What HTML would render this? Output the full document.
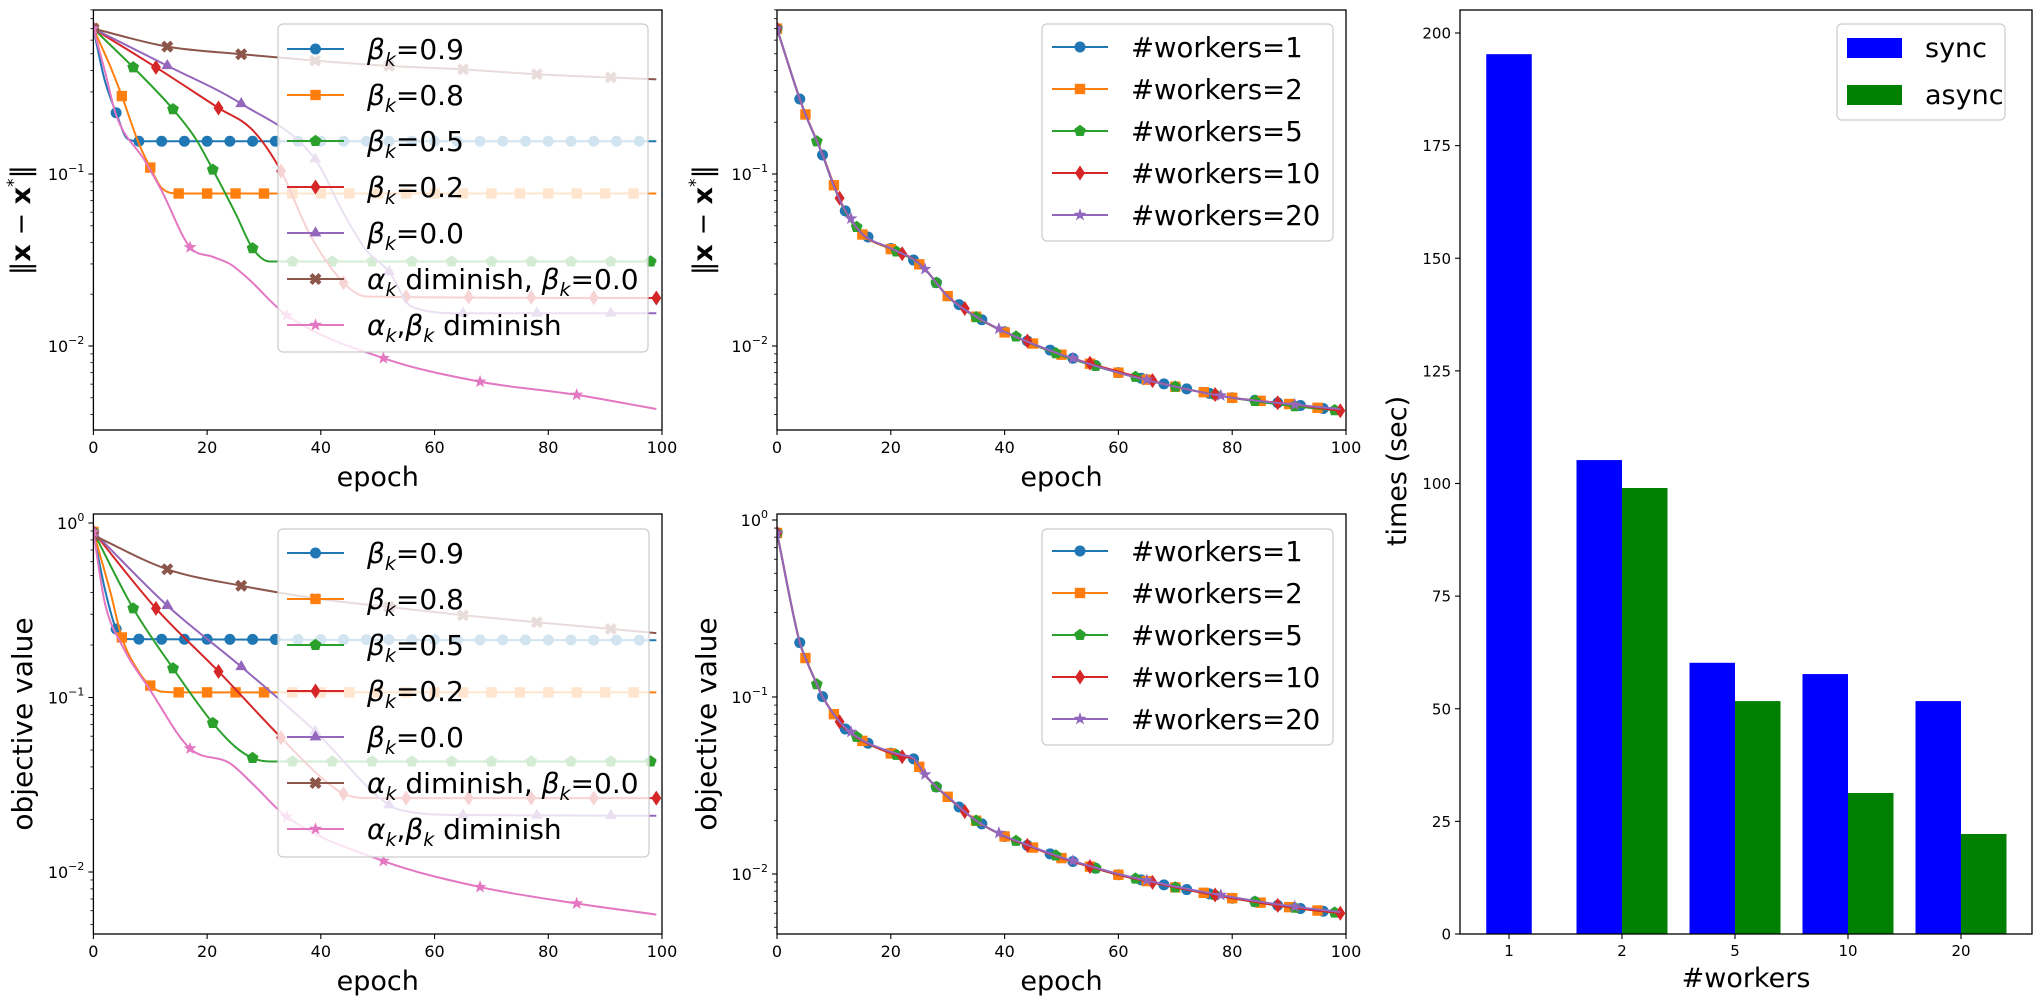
<!DOCTYPE html>
<html><head><meta charset="utf-8"><style>
html,body{margin:0;padding:0;background:#fff;}
svg{display:block;font-family:"DejaVu Sans","Liberation Sans",sans-serif;}
</style></head><body>
<svg id="fig" width="2040" height="1002" viewBox="0 0 2040 1002" xmlns="http://www.w3.org/2000/svg">
<rect width="2040" height="1002" fill="#fff"/>
</svg>
<script>
// ---------- data: left panels (beta experiments) ----------
const tlE_b09=[0,2,4,6,8,99];            const tlV_b09=[0.70,0.35,0.227,0.16,0.155,0.155];
const tlE_b08=[0,3,5,8,10,12,15,99];     const tlV_b08=[0.70,0.42,0.284,0.15,0.109,0.083,0.077,0.077];
const tlE_b05=[0,7,14,18,21,25,28,31,99];const tlV_b05=[0.70,0.417,0.238,0.16,0.106,0.059,0.037,0.031,0.031];
const tlE_b02=[0,11,22,28,33,38,44,48,99];const tlV_b02=[0.70,0.417,0.242,0.18,0.104,0.045,0.0233,0.0194,0.019];
const tlE_b00=[0,13,26,39,44,48,52,56,65,99];const tlV_b00=[0.70,0.426,0.256,0.122,0.059,0.036,0.027,0.0169,0.0155,0.0155];
const tlE_ad=[0,13,26,39,52,65,78,99];   const tlV_ad=[0.70,0.55,0.497,0.456,0.425,0.406,0.38,0.355];
const tlE_abd=[0,2,4,9,12,17,21,24,27,34,51,68,85,99];const tlV_abd=[0.70,0.40,0.22,0.12,0.08,0.0375,0.033,0.030,0.025,0.0151,0.0085,0.0062,0.0052,0.0043];

const blE_b09=[0,2,4,6,99];              const blV_b09=[0.89,0.42,0.247,0.216,0.213];
const blE_b08=[0,3,5,8,10,12,15,99];     const blV_b08=[0.89,0.40,0.221,0.14,0.117,0.108,0.107,0.107];
const blE_b05=[0,7,14,21,25,28,31,99];   const blV_b05=[0.89,0.324,0.147,0.0714,0.052,0.045,0.043,0.043];
const blE_b02=[0,11,22,33,40,44,48,99];  const blV_b02=[0.89,0.324,0.141,0.0589,0.035,0.0281,0.0265,0.0265];
const blE_b00=[0,13,26,39,52,56,65,99];  const blV_b00=[0.89,0.336,0.150,0.064,0.0242,0.022,0.0212,0.021];
const blE_ad=[0,13,26,39,52,65,78,99];   const blV_ad=[0.85,0.543,0.437,0.37,0.33,0.296,0.27,0.234];
const blE_abd=[0,2,5,10,17,24,28,34,51,68,85,99];const blV_abd=[0.89,0.35,0.2,0.11,0.051,0.042,0.032,0.0207,0.01156,0.0082,0.0066,0.0057];

// ---------- data: middle panels (workers) ----------
const tmE=[0,4,5,8,10,12,15,20,24,26,30,35,40,50,60,70,80,90,99];
const tmV_w1 =[0.70,0.273,0.222,0.129,0.085,0.061,0.0447,0.0369,0.0316,0.028,0.0194,0.0148,0.0121,0.0089,0.0070,0.0058,0.0050,0.0046,0.0042];
const tmV_w2 =[0.70,0.272,0.222,0.130,0.086,0.061,0.0445,0.0366,0.0318,0.028,0.0195,0.0148,0.0120,0.0089,0.0070,0.0058,0.0050,0.0046,0.0042];
const tmV_w5 =[0.70,0.274,0.223,0.129,0.085,0.060,0.0446,0.0368,0.0316,0.028,0.0194,0.0147,0.0121,0.0088,0.0070,0.0058,0.0050,0.0045,0.0042];
const tmV_w10=[0.70,0.273,0.223,0.130,0.086,0.061,0.0447,0.0369,0.0320,0.028,0.0195,0.0148,0.0121,0.0089,0.0071,0.0058,0.0050,0.0046,0.0042];
const tmV_w20=[0.70,0.273,0.222,0.129,0.085,0.061,0.0448,0.0370,0.0318,0.028,0.0194,0.0148,0.0121,0.0089,0.0070,0.0058,0.0050,0.0046,0.0043];
const bmE=[0,4,5,7,8,10,12,15,20,22,24,26,28,30,32,35,40,45,50,55,60,70,80,90,99];
const bmV_w1 =[0.845,0.203,0.166,0.118,0.1005,0.0797,0.066,0.0566,0.0482,0.046,0.0447,0.0363,0.031,0.0273,0.0239,0.020,0.0163,0.0141,0.0123,0.0110,0.0099,0.0084,0.0073,0.0065,0.0060];
const bmV_w2 =[0.845,0.203,0.166,0.119,0.1005,0.0800,0.066,0.0565,0.0480,0.046,0.0448,0.0363,0.031,0.0273,0.0239,0.020,0.0163,0.0141,0.0123,0.0110,0.0099,0.0084,0.0073,0.0065,0.0060];
const bmV_w5 =[0.845,0.204,0.167,0.118,0.1005,0.0797,0.066,0.0566,0.0482,0.046,0.0447,0.0362,0.031,0.0272,0.0239,0.020,0.0163,0.0141,0.0124,0.0110,0.0099,0.0084,0.0073,0.0065,0.0060];
const bmV_w10=[0.845,0.203,0.166,0.118,0.1005,0.0797,0.066,0.0566,0.0482,0.046,0.0447,0.0363,0.031,0.0273,0.0239,0.020,0.0163,0.0141,0.0123,0.0110,0.0099,0.0084,0.0073,0.0065,0.0060];
const bmV_w20=[0.845,0.203,0.166,0.118,0.1005,0.0797,0.067,0.0570,0.0490,0.047,0.0450,0.0365,0.031,0.0274,0.0240,0.020,0.0164,0.0142,0.0124,0.0111,0.0100,0.0085,0.0074,0.0066,0.0061];

// ---------- data: bar chart ----------
const barCategories=["1","2","5","10","20"];
const syncTimes=[195.3,105.2,60.2,57.7,51.7];
const asyncTimes=[null,99.0,51.7,31.3,22.2];
const barYTicks=[0,25,50,75,100,125,150,175,200];
const epochTicks=[0,20,40,60,80,100];

const COLORS=["#1f77b4","#ff7f0e","#2ca02c","#d62728","#9467bd","#8c564b","#e377c2"];
const NS="http://www.w3.org/2000/svg";
const svg=document.getElementById('fig');
function el(tag,attrs,parent){const e=document.createElementNS(NS,tag);for(const k in attrs)e.setAttribute(k,attrs[k]);(parent||svg).appendChild(e);return e;}

function smoothPath(P){
  // monotone cubic (Fritsch-Carlson) through screen points, x increasing
  const n=P.length;if(n<2)return '';
  const dx=[],m=[],t=new Array(n);
  for(let i=0;i<n-1;i++){dx.push(P[i+1][0]-P[i][0]);m.push((P[i+1][1]-P[i][1])/dx[i]);}
  t[0]=m[0];t[n-1]=m[n-2];
  for(let i=1;i<n-1;i++){t[i]=(m[i-1]*m[i]<=0)?0:(m[i-1]+m[i])/2;}
  for(let i=0;i<n-1;i++){
    if(m[i]===0){t[i]=0;t[i+1]=0;continue;}
    const a=t[i]/m[i],b=t[i+1]/m[i],s=a*a+b*b;
    if(s>9){const k=3/Math.sqrt(s);t[i]=k*a*m[i];t[i+1]=k*b*m[i];}
  }
  let d='M'+P[0][0].toFixed(2)+','+P[0][1].toFixed(2);
  for(let i=0;i<n-1;i++){
    const h=dx[i]/3;
    d+=' C'+(P[i][0]+h).toFixed(2)+','+(P[i][1]+t[i]*h).toFixed(2)+' '+(P[i+1][0]-h).toFixed(2)+','+(P[i+1][1]-t[i+1]*h).toFixed(2)+' '+P[i+1][0].toFixed(2)+','+P[i+1][1].toFixed(2);
  }
  return d;
}
function markerPath(shape,x,y,s){
  s=s||1;
  if(shape==='o'){return {tag:'circle',a:{cx:x,cy:y,r:5.5*s}};}
  let pts=[];
  if(shape==='s'){const h=5.2*s;pts=[[x-h,y-h],[x+h,y-h],[x+h,y+h],[x-h,y+h]];}
  else if(shape==='p'){const r=6.2*s;for(let i=0;i<5;i++){const a=-Math.PI/2+i*2*Math.PI/5;pts.push([x+r*Math.cos(a),y+r*Math.sin(a)]);}}
  else if(shape==='d'){const w=5*s,h=7.5*s;pts=[[x,y-h],[x+w,y],[x,y+h],[x-w,y]];}
  else if(shape==='^'){const r=6.8*s;for(let i=0;i<3;i++){const a=-Math.PI/2+i*2*Math.PI/3;pts.push([x+r*Math.cos(a),y+r*Math.sin(a)]);}}
  else if(shape==='*'){const R=6.8*s,r=2.8*s;for(let i=0;i<10;i++){const a=-Math.PI/2+i*Math.PI/5;const rr=i%2?r:R;pts.push([x+rr*Math.cos(a),y+rr*Math.sin(a)]);}}
  else if(shape==='X'){const R=6*s,t=3*s;const base=[[-R+t,-R],[0,-t],[R-t,-R],[R,-R+t],[t,0],[R,R-t],[R-t,R],[0,t],[-R+t,R],[-R,R-t],[-t,0],[-R,-R+t]];pts=base.map(p=>[x+p[0],y+p[1]]);}
  return {tag:'polygon',a:{points:pts.map(p=>p[0].toFixed(2)+','+p[1].toFixed(2)).join(' ')}};
}
function interpLog(E,V,e){
  for(let i=0;i<E.length-1;i++){if(e>=E[i]&&e<=E[i+1]){const t=(e-E[i])/(E[i+1]-E[i]);return Math.pow(10,Math.log10(V[i])*(1-t)+Math.log10(V[i+1])*t);}}
  return null;
}
function mathLabel(parent,x,y,parts,attrs){
  const t=el('text',Object.assign({x:x,y:y},attrs),parent);
  parts.forEach(p=>{const ts=el('tspan',{},t);ts.textContent=p[0];if(p[1])for(const k in p[1])ts.setAttribute(k,p[1][k]);});
  return t;
}

function logPanel(cfg){
  const g=el('g',{});
  
  
  const X=e=>cfg.x0+(e/100)*(cfg.x1-cfg.x0);
  const Y=v=>cfg.yRef-(Math.log10(v)-cfg.lRef)*cfg.dec;
  const clipId='clip-'+cfg.name;
  const cp=el('clipPath',{id:clipId},g);el('rect',{x:cfg.x0,y:cfg.y0,width:cfg.x1-cfg.x0,height:cfg.y1-cfg.y0},cp);
  const plot=el('g',{'clip-path':'url(#'+clipId+')'},g);
  cfg.series.forEach((s,i)=>{
    const d=smoothPath(s.E.map((e,j)=>[X(e),Y(s.V[j])]));
    const p=el('path',{d:d,fill:'none',stroke:s.color,'stroke-width':2,'stroke-linejoin':'round'},plot);
    
    
    const mg=el('g',{fill:s.color},plot);
    
    
    for(let e=0;e<=s.E[s.E.length-1];e+=s.every){
      const v=interpLog(s.E,s.V,e);if(v==null)continue;
      const m=markerPath(s.shape,X(e),Y(v),1);el(m.tag,m.a,mg);
    }
  });
  const fr=el('rect',{x:cfg.x0,y:cfg.y0,width:cfg.x1-cfg.x0,height:cfg.y1-cfg.y0,fill:'none',stroke:'#000','stroke-width':1.3},g);
  
  const xt=el('g',{'font-size':16,'text-anchor':'middle'},g);
  
  epochTicks.forEach(t=>{const x=X(t);el('line',{x1:x,x2:x,y1:cfg.y1,y2:cfg.y1+5,stroke:'#000','stroke-width':1.1},xt);const tx=el('text',{x:x,y:cfg.y1+23},xt);tx.textContent=t;});
  const yt=el('g',{'font-size':16,'text-anchor':'end'},g);
  
  for(let d=-3;d<=0;d++){
    for(let m=1;m<10;m++){
      const v=m*Math.pow(10,d);const y=Y(v);
      if(y<cfg.y0-0.5||y>cfg.y1+0.5)continue;
      if(m===1){el('line',{x1:cfg.x0-5,x2:cfg.x0,y1:y,y2:y,stroke:'#000','stroke-width':1.1},yt);
        mathLabel(yt,cfg.x0-9,y+6,[['10'],[d===0?'0':'−'+(-d),{'font-size':11,dy:-8}]]);}
      else el('line',{x1:cfg.x0-3,x2:cfg.x0,y1:y,y2:y,stroke:'#000','stroke-width':0.8},yt);
    }
  }
  const xl=el('text',{x:(cfg.x0+cfg.x1)/2,y:cfg.y1+56,'font-size':27,'text-anchor':'middle'},g);
  xl.textContent='epoch';
  let yl;
  if(cfg.ylabel==='norm'){
    yl=mathLabel(g,0,0,[['‖'],['x',{'font-weight':'bold'}],[' − '],['x',{'font-weight':'bold'}],['*',{'font-size':17,dy:-11}],['‖',{dy:11}]],{'font-size':27,'text-anchor':'middle',transform:'translate('+(cfg.ylx)+','+((cfg.y0+cfg.y1)/2)+') rotate(-90)'});
  } else {
    yl=el('text',{'font-size':28,'text-anchor':'middle',transform:'translate('+(cfg.ylx)+','+((cfg.y0+cfg.y1)/2)+') rotate(-90)'},g);
    yl.textContent='objective value';
  }
  
  const L=cfg.legend;
  const lg=el('g',{},g);
  
  el('rect',{x:L.x,y:L.y,width:L.w,height:L.h,rx:5,fill:'#fff','fill-opacity':0.8,stroke:'#cccccc','stroke-width':1.2},lg);
  cfg.series.forEach((s,i)=>{
    const y=L.row0+i*L.dy;
    const eg=el('g',{},lg);
    
    el('line',{x1:L.lx0,x2:L.lx1,y1:y,y2:y,stroke:s.color,'stroke-width':2},eg);
    const m=markerPath(s.shape,(L.lx0+L.lx1)/2,y,1);m.a.fill=s.color;el(m.tag,m.a,eg);
    mathLabel(eg,L.tx,y+10,s.label,{'font-size':L.fs});
  });
}
const it={'font-style':'italic'};
const sub={'font-size':19,dy:7,'font-style':'italic'};
const up={dy:-7};
function betaLabel(val){return [['β',it],['k',sub],['='+val,up]];}
const alphaDim=[['α',it],['k',sub],[' diminish, ',up],['β',it],['k',sub],['=0.0',up]];
const abDim=[['α',it],['k',sub],[',',up],['β',it],['k',sub],[' diminish',up]];
function betaSeries(p){
  return [
    {id:'beta-0.9',E:p.E09,V:p.V09,color:COLORS[0],shape:'o',every:4,label:betaLabel('0.9')},
    {id:'beta-0.8',E:p.E08,V:p.V08,color:COLORS[1],shape:'s',every:5,label:betaLabel('0.8')},
    {id:'beta-0.5',E:p.E05,V:p.V05,color:COLORS[2],shape:'p',every:7,label:betaLabel('0.5')},
    {id:'beta-0.2',E:p.E02,V:p.V02,color:COLORS[3],shape:'d',every:11,label:betaLabel('0.2')},
    {id:'beta-0.0',E:p.E00,V:p.V00,color:COLORS[4],shape:'^',every:13,label:betaLabel('0.0')},
    {id:'alpha-diminish',E:p.Ead,V:p.Vad,color:COLORS[5],shape:'X',every:13,label:alphaDim},
    {id:'alpha-beta-diminish',E:p.Eabd,V:p.Vabd,color:COLORS[6],shape:'*',every:17,label:abDim}
  ];
}
function workerSeries(E,vs){
  const ids=['1','2','5','10','20'],shapes=['o','s','p','d','*'],ev=[4,5,7,11,13];
  return ids.map((w,i)=>({id:'workers-'+w,E:E,V:vs[i],color:COLORS[i],shape:shapes[i],every:ev[i],label:[['#workers='+w]]}));
}
logPanel({name:'panel-distance-beta',x0:93.4,x1:662,y0:10,y1:430,yRef:174,lRef:-1,dec:172,ylabel:'norm',ylx:30,
  series:betaSeries({E09:tlE_b09,V09:tlV_b09,E08:tlE_b08,V08:tlV_b08,E05:tlE_b05,V05:tlV_b05,E02:tlE_b02,V02:tlV_b02,E00:tlE_b00,V00:tlV_b00,Ead:tlE_ad,Vad:tlV_ad,Eabd:tlE_abd,Vabd:tlV_abd}),
  legend:{x:278,y:24,w:370,h:328,row0:49,dy:46,lx0:287,lx1:344,tx:367,fs:28}});
logPanel({name:'panel-objective-beta',x0:93.4,x1:662,y0:514,y1:934,yRef:523,lRef:0,dec:174.5,ylabel:'obj',ylx:32,
  series:betaSeries({E09:blE_b09,V09:blV_b09,E08:blE_b08,V08:blV_b08,E05:blE_b05,V05:blV_b05,E02:blE_b02,V02:blV_b02,E00:blE_b00,V00:blV_b00,Ead:blE_ad,Vad:blV_ad,Eabd:blE_abd,Vabd:blV_abd}),
  legend:{x:278,y:529,w:371,h:328,row0:553,dy:46,lx0:287,lx1:344,tx:367,fs:28}});
logPanel({name:'panel-distance-workers',x0:777,x1:1346,y0:10,y1:430,yRef:174,lRef:-1,dec:172,ylabel:'norm',ylx:712,
  series:workerSeries(tmE,[tmV_w1,tmV_w2,tmV_w5,tmV_w10,tmV_w20]),
  legend:{x:1042,y:24,w:291,h:217,row0:47,dy:42,lx0:1052,lx1:1108,tx:1131,fs:27.5}});
logPanel({name:'panel-objective-workers',x0:777,x1:1346,y0:514,y1:934,yRef:520,lRef:0,dec:177,ylabel:'obj',ylx:716,
  series:workerSeries(bmE,[bmV_w1,bmV_w2,bmV_w5,bmV_w10,bmV_w20]),
  legend:{x:1042,y:529,w:291,h:216,row0:551,dy:42,lx0:1052,lx1:1108,tx:1131,fs:27.5}});

// ---------- bar chart ----------
(function(){
  const g=el('g',{});
  
  const x0=1460,x1=2032,y0=10,y1=934;
  const Y=v=>y1-v*4.505;
  const tickX=i=>1509+i*113;
  const bw=45.5;
  barCategories.forEach((c,i)=>{
    const tx=tickX(i);
    const hasA=asyncTimes[i]!=null;
    const sx=hasA?tx-bw:tx-bw/2;
    const b=el('rect',{x:sx,y:Y(syncTimes[i]),width:bw,height:y1-Y(syncTimes[i]),fill:'#0000ff'},g);
    
    if(hasA){
      const a=el('rect',{x:tx,y:Y(asyncTimes[i]),width:bw,height:y1-Y(asyncTimes[i]),fill:'#008000'},g);
      
    }
  });
  const fr=el('rect',{x:x0,y:y0,width:x1-x0,height:y1-y0,fill:'none',stroke:'#000','stroke-width':1.3},g);
  
  const yt=el('g',{'font-size':15,'text-anchor':'end'},g);
  
  barYTicks.forEach(t=>{const y=Y(t);el('line',{x1:x0-5,x2:x0,y1:y,y2:y,stroke:'#000','stroke-width':1.1},yt);const tx=el('text',{x:x0-9,y:y+5.5},yt);tx.textContent=t;});
  const xt=el('g',{'font-size':15,'text-anchor':'middle'},g);
  
  barCategories.forEach((c,i)=>{const x=tickX(i);el('line',{x1:x,x2:x,y1:y1,y2:y1+5,stroke:'#000','stroke-width':1.1},xt);const tx=el('text',{x:x,y:y1+22},xt);tx.textContent=c;});
  const xl=el('text',{x:(x0+x1)/2,y:987,'font-size':27,'text-anchor':'middle'},g);
  xl.textContent='#workers';
  const yl=el('text',{'font-size':27,'text-anchor':'middle',transform:'translate(1406,471) rotate(-90)'},g);
  yl.textContent='times (sec)';
  const lg=el('g',{},g);
  
  el('rect',{x:1837,y:24,width:168,height:96,rx:5,fill:'#fff','fill-opacity':0.8,stroke:'#cccccc','stroke-width':1.2},lg);
  [['sync','#0000ff',48],['async','#008000',95]].forEach(r=>{
    const eg=el('g',{},lg);
    
    el('rect',{x:1847,y:r[2]-10,width:55,height:20,fill:r[1]},eg);
    const t=el('text',{x:1925,y:r[2]+9,'font-size':27},eg);t.textContent=r[0];
  });
})();
</script>
</body></html>
